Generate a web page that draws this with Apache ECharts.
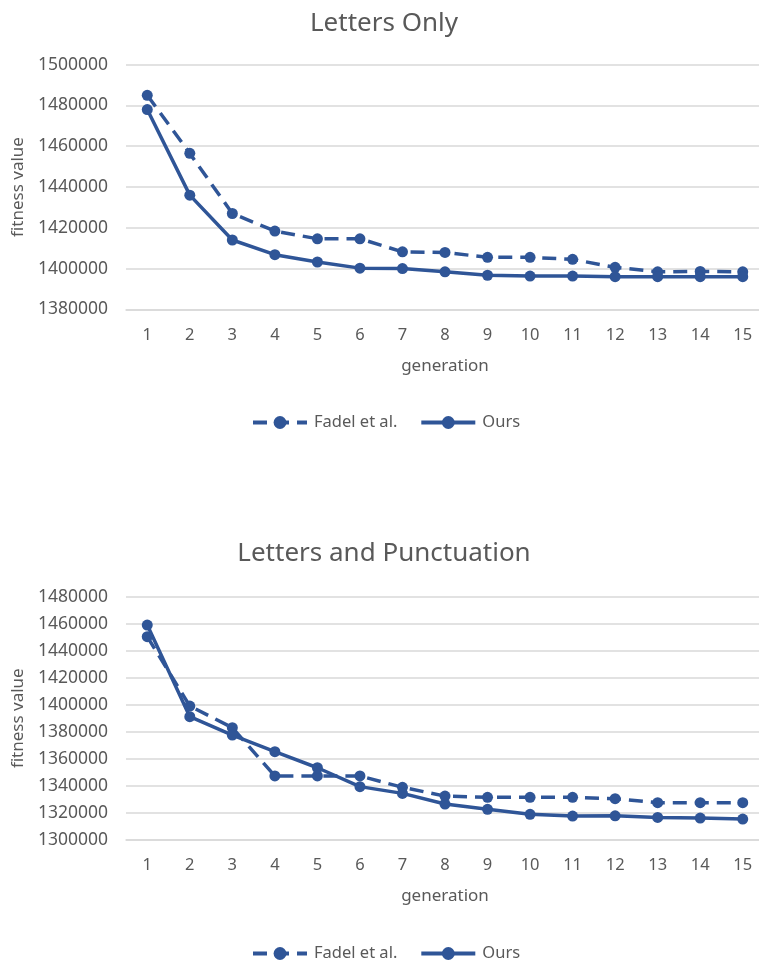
<!DOCTYPE html>
<html><head><meta charset="utf-8">
<script src="https://cdn.jsdelivr.net/npm/echarts@6/dist/echarts.min.js"></script>
<style>html,body{margin:0;padding:0;background:#fff}#c{width:759px;height:965px}</style>
</head><body><div id="c"></div>
<script>
const generations = ['1','2','3','4','5','6','7','8','9','10','11','12','13','14','15'];
const lettersFadel = [1485000,1456500,1427000,1418400,1414600,1414600,1408200,1407900,1405500,1405500,1404500,1400600,1398400,1398600,1398400];
const lettersOurs  = [1478000,1436000,1414000,1406800,1403200,1400200,1400000,1398400,1396700,1396300,1396300,1396000,1396000,1396000,1396000];
const punctFadel = [1450400,1399000,1383000,1347200,1347200,1347200,1338800,1332300,1331400,1331400,1331400,1330400,1327400,1327400,1327400];
const punctOurs  = [1459000,1391100,1377500,1365200,1353300,1339300,1334300,1326400,1322500,1318800,1317500,1317700,1316500,1316000,1315300];
const titles = ['Letters Only','Letters and Punctuation'];
const seriesNames = ['Fadel et al.','Ours'];

const COLOR = '#2F5597';
const TXT = '#595959';
const FONT = 'Noto Sans';
const chart = echarts.init(document.getElementById('c'));

function xAx(gi){
  return {type:'category', gridIndex:gi, data:generations, boundaryGap:true,
    name:'generation', nameLocation:'middle', nameGap:48,
    nameTextStyle:{color:TXT, fontSize:17, fontFamily:FONT},
    axisLine:{show:true, lineStyle:{color:'#d9d9d9', width:1.5}}, axisTick:{show:false},
    axisLabel:{color:TXT, fontSize:16.5, fontFamily:FONT, margin:17}};
}
function yAx(gi,min,max){
  return {type:'value', gridIndex:gi, min:min, max:max, interval:20000,
    name:'fitness value', nameLocation:'middle', nameGap:96,
    nameTextStyle:{color:TXT, fontSize:17, fontFamily:FONT},
    axisLine:{show:false}, axisTick:{show:false},
    splitLine:{lineStyle:{color:'#d9d9d9', width:1.5}},
    axisLabel:{color:TXT, fontSize:17.5, fontFamily:FONT, margin:18, formatter:v=>String(v)}};
}
function ser(name,data,gi,dashed){
  return {type:'line', name:name, xAxisIndex:gi, yAxisIndex:gi, data:data,
    symbol:'circle', symbolSize:11, color:COLOR,
    lineStyle:{color:COLOR, width:3.5, type: dashed ? [14,8] : 'solid'},
    itemStyle:{color:COLOR}};
}
function leg(top){
  return {data:seriesNames, top:top, left:251, padding:0, itemWidth:54, itemHeight:16, itemGap:22,
    lineStyle:{width:4}, textStyle:{color:TXT, fontSize:16.5, fontFamily:FONT, padding:[0,0,0,2]}};
}
chart.setOption({
  animation:false,
  title:[
    {text:titles[0], left:379, textAlign:'center', top:6, textStyle:{color:TXT, fontSize:26, fontWeight:'normal', fontFamily:FONT}},
    {text:titles[1], left:379, textAlign:'center', top:536, textStyle:{color:TXT, fontSize:26, fontWeight:'normal', fontFamily:FONT}}
  ],
  legend:[leg(414), leg(945)],
  grid:[
    {left:126, width:638, top:64.7, height:244.6, outerBoundsMode:'none'},
    {left:126, width:638, top:596.7, height:243, outerBoundsMode:'none'}
  ],
  xAxis:[xAx(0), xAx(1)],
  yAxis:[yAx(0,1380000,1500000), yAx(1,1300000,1480000)],
  series:[
    ser(seriesNames[0], lettersFadel, 0, true),
    ser(seriesNames[1], lettersOurs, 0, false),
    ser(seriesNames[0], punctFadel, 1, true),
    ser(seriesNames[1], punctOurs, 1, false)
  ]
});
</script></body></html>
